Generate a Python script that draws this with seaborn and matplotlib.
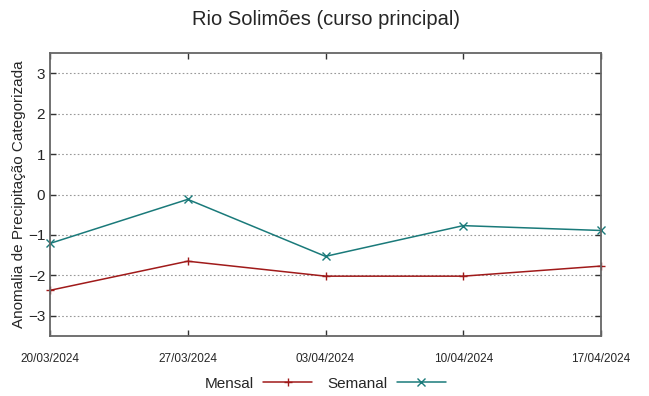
import matplotlib
matplotlib.use("Agg")
import matplotlib.pyplot as plt
import pandas as pd
import seaborn as sns

DATES = ["20/03/2024", "27/03/2024", "03/04/2024", "10/04/2024", "17/04/2024"]
MENSAL = [-2.37, -1.65, -2.02, -2.02, -1.77]
SEMANAL = [-1.21, -0.12, -1.53, -0.77, -0.89]
Y_TICKS = [-3, -2, -1, 0, 1, 2, 3]

TITLE = "Rio Solimões (curso principal)"
Y_LABEL = "Anomalia de Precipitação Categorizada"
COLORS = {"Mensal": "#a01a1a", "Semanal": "#1a7a7a"}
MARKERS = {"Mensal": "+", "Semanal": "x"}

sns.set_style("white")
plt.rcParams["font.family"] = ["Liberation Sans", "DejaVu Sans"]

df = pd.DataFrame({
    "pos": list(range(len(DATES))) * 2,
    "valor": MENSAL + SEMANAL,
    "serie": ["Mensal"] * len(DATES) + ["Semanal"] * len(DATES),
})

fig = plt.figure(figsize=(6.49, 3.96), dpi=100)
ax = fig.add_axes([50 / 649, 60 / 396, 551 / 649, 283 / 396])

for name in ["Mensal", "Semanal"]:
    sub = df[df["serie"] == name]
    sns.lineplot(data=sub, x="pos", y="valor", ax=ax, color=COLORS[name],
                 marker=MARKERS[name], markersize=6, markeredgewidth=1,
                 markeredgecolor=COLORS[name], linewidth=1.1, label=name,
                 clip_on=False)

ax.set_xlim(0, len(DATES) - 1)
ax.set_ylim(-3.5, 3.5)
ax.set_xticks(range(len(DATES)))
ax.set_xticklabels(DATES, fontsize=8.5)
ax.set_yticks(Y_TICKS)
ax.tick_params(axis="y", labelsize=11)
ax.tick_params(direction="in", length=4, width=1, color="#333333",
               top=True, right=True, bottom=True, left=True)
ax.tick_params(axis="x", pad=12)
ax.yaxis.grid(True, linestyle=(0, (1.5, 2)), color="#999999", linewidth=0.8)
ax.xaxis.grid(False)
for s in ax.spines.values():
    s.set_color("#666666")
    s.set_linewidth(1.3)

ax.set_xlabel("")
ax.set_ylabel(Y_LABEL, fontsize=11, labelpad=1)
fig.suptitle(TITLE, fontsize=14.5, x=(50 + 601) / 2 / 649, y=0.975)

ax.legend(loc="upper center", bbox_to_anchor=(0.5, -0.095), ncol=2,
          frameon=False, markerfirst=False, fontsize=11, handlelength=3.2,
          columnspacing=1.0, handletextpad=0.6)

fig.savefig("out.png", dpi=100)
